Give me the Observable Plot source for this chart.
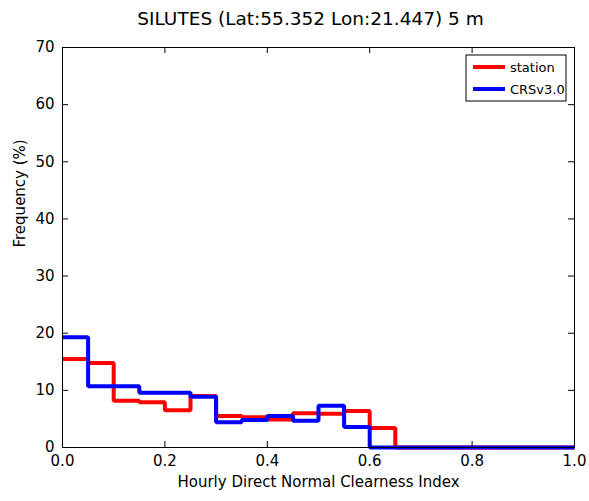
<!DOCTYPE html>
<html><head><meta charset="utf-8">
<script src="https://cdn.jsdelivr.net/npm/d3@7"></script>
<script src="https://cdn.jsdelivr.net/npm/@observablehq/plot@0.6"></script>
<style>body{margin:0;background:#fff;} svg{font-family:"DejaVu Sans",sans-serif;}</style>
</head><body><div id="chart"></div>
<script>
const title = "SILUTES (Lat:55.352 Lon:21.447) 5 m";
const xLabel = "Hourly Direct Normal Clearness Index";
const yLabel = "Frequency (%)";
const binEdges = [0,0.05,0.1,0.15,0.2,0.25,0.3,0.35,0.4,0.45,0.5,0.55,0.6,0.65,0.7,0.75,0.8,0.85,0.9,0.95,1.0];
const seriesNames = ["station","CRSv3.0"];
const seriesColors = ["#ff0000","#0000ff"];
const stationValues = [15.5,14.8,8.2,7.9,6.5,9.0,5.5,5.3,4.9,6.0,5.9,6.4,3.4,0,0,0,0,0,0,0];
const crsValues     = [19.3,10.7,10.7,9.6,9.6,8.9,4.4,4.8,5.5,4.7,7.3,3.6,0,0,0,0,0,0,0,0];
const xTicks = [0,0.2,0.4,0.6,0.8,1.0];
const yTicks = [0,10,20,30,40,50,60,70];

function steps(vals, name){
  const pts = vals.map((v,i)=>({x:binEdges[i], y:v, s:name}));
  pts.push({x:binEdges[binEdges.length-1], y:vals[vals.length-1], s:name});
  return pts;
}
const data = [...steps(stationValues, seriesNames[0]), ...steps(crsValues, seriesNames[1])];

const W=589,H=501,mL=62,mR=15,mT=47,mB=54;
const plot = Plot.plot({
  width:W, height:H, marginLeft:mL, marginRight:mR, marginTop:mT, marginBottom:mB,
  style:{fontFamily:"DejaVu Sans, sans-serif", fontSize:"14px", color:"#000", background:"#fff"},
  x:{domain:[0,1]}, y:{domain:[0,70]},
  color:{domain:seriesNames, range:seriesColors},
  marks:[
    Plot.line(data,{x:"x",y:"y",z:"s",stroke:"s",curve:"step-after",strokeWidth:4,strokeLinejoin:"miter",strokeLinecap:"butt"}),
    Plot.frame({stroke:"#000",strokeWidth:1}),
    Plot.ruleX(xTicks,{x:d=>d,y1:0,y2:1.05,stroke:"#000"}),
    Plot.ruleX(xTicks,{x:d=>d,y1:70-1.05,y2:70,stroke:"#000"}),
    Plot.ruleY(yTicks,{y:d=>d,x1:0,x2:0.0117,stroke:"#000"}),
    Plot.ruleY(yTicks,{y:d=>d,x1:1-0.0117,x2:1,stroke:"#000"}),
    Plot.axisX(xTicks,{tickSize:0,tickPadding:8,tickFormat:d3.format(".1f"),label:null,fontSize:15}),
    Plot.axisY(yTicks,{tickSize:0,tickPadding:8,label:null,fontSize:15}),
    Plot.text([xLabel],{frameAnchor:"bottom",dy:39,text:d=>d,fontSize:15}),
    Plot.text([yLabel],{frameAnchor:"left",dx:-42,rotate:-90,text:d=>d,fontSize:15}),
    Plot.text([title],{frameAnchor:"top",dy:-36,dx:-8,text:d=>d,fontSize:18.5})
  ]
});
document.getElementById("chart").appendChild(plot);
// legend
const svg = d3.select(plot);
const lx = 466, ly = 55, lw = 100, lh = 46;
const lg = svg.append("g").attr("text-anchor","start");
lg.append("rect").attr("x",lx).attr("y",ly).attr("width",lw).attr("height",lh).attr("fill","#fff").attr("stroke","#000");
seriesNames.forEach((n,i)=>{
  const yy = ly+12+i*22;
  lg.append("line").attr("x1",lx+7).attr("x2",lx+39).attr("y1",yy).attr("y2",yy).attr("stroke",seriesColors[i]).attr("stroke-width",4);
  lg.append("text").attr("x",lx+44).attr("y",yy).attr("dy","0.35em").attr("font-size",13).attr("text-anchor","start").text(n);
});
</script></body></html>
